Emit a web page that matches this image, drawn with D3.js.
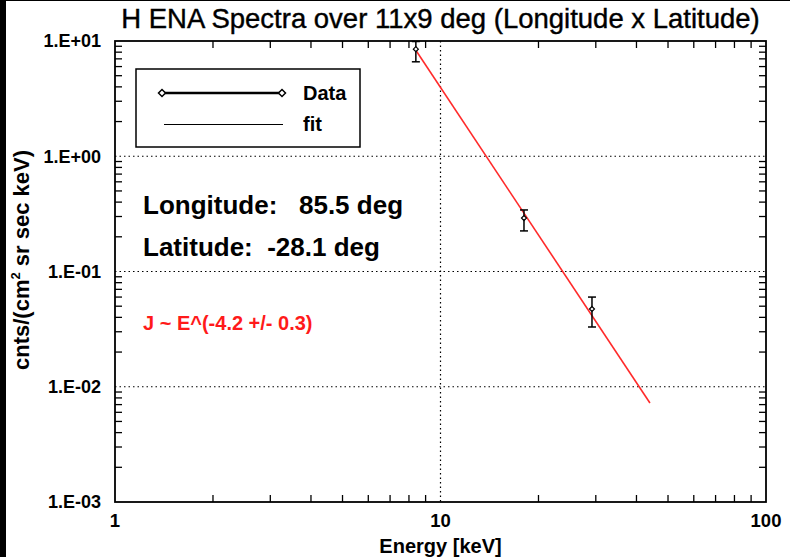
<!DOCTYPE html>
<html>
<head>
<meta charset="utf-8">
<script src="https://cdn.jsdelivr.net/npm/d3@7"></script>
<style>
  body { margin: 0; background: #fff; }
  svg { display: block; font-family: "Liberation Sans", Arial, Helvetica, sans-serif; }
</style>
</head>
<body>
<div id="container"></div>
<script>
// measured points (energy in keV, flux, error bar low/high)
const energy = [8.4, 18.05, 29.2];
const flux = [8.5, 0.291, 0.0473];
const fluxLow = [6.6, 0.225, 0.033];
const fluxHigh = [9.9, 0.342, 0.060];

// power-law fit line end points
const fitEnergy = [8.35, 44.0];
const fitFlux = [8.52, 0.00723];

const yTickValues = [10, 1, 0.1, 0.01, 0.001];
const yTickLabels = ["1.E+01", "1.E+00", "1.E-01", "1.E-02", "1.E-03"];
const xTickValues = [1, 10, 100];
const xTickLabels = ["1", "10", "100"];

const width = 790, height = 557;
const margin = { top: 41, right: 24, bottom: 55, left: 115 };

const svg = d3.select("#container").append("svg")
  .attr("width", width).attr("height", height);

svg.append("rect").attr("width", width).attr("height", height).attr("fill", "#fff");
// black strips left from the original screen grab
svg.append("rect").attr("x", 0).attr("y", 0).attr("width", 6).attr("height", height).attr("fill", "#000");
svg.append("rect").attr("x", 0).attr("y", 0).attr("width", width).attr("height", 1).attr("fill", "#000");

const x = d3.scaleLog().domain([1, 100]).range([margin.left, width - margin.right]);
const y = d3.scaleLog().domain([0.001, 10]).range([height - margin.bottom, margin.top]);

const [x0, x1] = x.range();
const [y0, y1] = [y(0.001), y(10)];

// dotted grid at decades
const grid = svg.append("g").attr("stroke", "#000").attr("stroke-width", 1.2)
  .attr("stroke-dasharray", "1.5,3");
grid.selectAll(".gx").data([10]).enter().append("line")
  .attr("x1", (d) => x(d)).attr("x2", (d) => x(d)).attr("y1", y1).attr("y2", y0);
grid.selectAll(".gy").data([1, 0.1, 0.01]).enter().append("line")
  .attr("y1", (d) => y(d)).attr("y2", (d) => y(d)).attr("x1", x0).attr("x2", x1);

// minor ticks on all four sides, pointing inward
const xMinor = x.ticks().filter((d) => !xTickValues.includes(d));
const yMinor = y.ticks().filter((d) => !yTickValues.some((v) => Math.abs(v - d) < d * 1e-6));
const tickLen = 7;
const ticks = svg.append("g").attr("stroke", "#000").attr("stroke-width", 1.3);
ticks.selectAll(".tb").data(xMinor).enter().append("line")
  .attr("x1", (d) => x(d)).attr("x2", (d) => x(d)).attr("y1", y0).attr("y2", y0 - tickLen);
ticks.selectAll(".tt").data(xMinor).enter().append("line")
  .attr("x1", (d) => x(d)).attr("x2", (d) => x(d)).attr("y1", y1).attr("y2", y1 + tickLen);
ticks.selectAll(".tl").data(yMinor).enter().append("line")
  .attr("y1", (d) => y(d)).attr("y2", (d) => y(d)).attr("x1", x0).attr("x2", x0 + tickLen);
ticks.selectAll(".tr").data(yMinor).enter().append("line")
  .attr("y1", (d) => y(d)).attr("y2", (d) => y(d)).attr("x1", x1).attr("x2", x1 - tickLen);

// frame
svg.append("rect").attr("x", x0).attr("y", y1).attr("width", x1 - x0).attr("height", y0 - y1)
  .attr("fill", "none").attr("stroke", "#000").attr("stroke-width", 1.8);

// tick labels
svg.append("g").selectAll("text").data(yTickValues).enter().append("text")
  .attr("x", x0 - 14).attr("y", (d) => y(d)).attr("dy", "0.36em")
  .attr("text-anchor", "end").attr("font-size", 18).attr("font-weight", "bold")
  .text((d, i) => yTickLabels[i]);
svg.append("g").selectAll("text").data(xTickValues).enter().append("text")
  .attr("x", (d) => x(d)).attr("y", y0 + 25)
  .attr("text-anchor", "middle").attr("font-size", 18.5).attr("font-weight", "bold")
  .text((d, i) => xTickLabels[i]);

// titles
svg.append("text").attr("x", (x0 + x1) / 2).attr("y", 28).attr("text-anchor", "middle")
  .attr("font-size", 27.5).attr("stroke", "#000").attr("stroke-width", 0.4)
  .text("H ENA Spectra over 11x9 deg (Longitude x Latitude)");
svg.append("text").attr("x", (x0 + x1) / 2).attr("y", 553).attr("text-anchor", "middle")
  .attr("font-size", 20).attr("font-weight", "bold").text("Energy [keV]");
const ylab = svg.append("text")
  .attr("transform", `translate(29,260) rotate(-90)`)
  .attr("text-anchor", "middle").attr("font-size", 22).attr("font-weight", "bold");
ylab.append("tspan").text("cnts/(cm");
ylab.append("tspan").attr("font-size", 13).attr("dy", -9).text("2");
ylab.append("tspan").attr("dy", 9).text(" sr sec keV)");

// fit line
const line = d3.line().x((d) => x(d[0])).y((d) => y(d[1]));
svg.append("path").datum(d3.zip(fitEnergy, fitFlux)).attr("d", line)
  .attr("fill", "none").attr("stroke", "#ff2a2a").attr("stroke-width", 1.6);

// error bars and diamonds
const diamond = (cx, cy, r) => `M${cx},${cy - r}L${cx + r},${cy}L${cx},${cy + r}L${cx - r},${cy}Z`;
const pts = svg.append("g").selectAll("g").data(energy).enter().append("g");
pts.append("line").attr("x1", (d) => x(d)).attr("x2", (d) => x(d))
  .attr("y1", (d, i) => y(fluxLow[i])).attr("y2", (d, i) => y(fluxHigh[i]))
  .attr("stroke", "#000").attr("stroke-width", 1.5);
pts.append("line").attr("x1", (d) => x(d) - 4).attr("x2", (d) => x(d) + 4)
  .attr("y1", (d, i) => y(fluxLow[i])).attr("y2", (d, i) => y(fluxLow[i]))
  .attr("stroke", "#000").attr("stroke-width", 1.5);
pts.append("line").attr("x1", (d) => x(d) - 4).attr("x2", (d) => x(d) + 4)
  .attr("y1", (d, i) => y(fluxHigh[i])).attr("y2", (d, i) => y(fluxHigh[i]))
  .attr("stroke", "#000").attr("stroke-width", 1.5);
pts.append("path").attr("d", (d, i) => diamond(x(d), y(flux[i]), 2.5))
  .attr("fill", "#fff").attr("stroke", "#000").attr("stroke-width", 1.2);

// legend
const lg = svg.append("g");
lg.append("rect").attr("x", 136).attr("y", 69).attr("width", 224).attr("height", 78)
  .attr("fill", "#fff").attr("stroke", "#000").attr("stroke-width", 1.5);
lg.append("line").attr("x1", 162).attr("x2", 282).attr("y1", 93).attr("y2", 93)
  .attr("stroke", "#000").attr("stroke-width", 2.5);
lg.selectAll(".ld").data([162, 282]).enter().append("path")
  .attr("d", (d) => diamond(d, 93, 3.5)).attr("fill", "#fff").attr("stroke", "#000").attr("stroke-width", 1.5);
lg.append("line").attr("x1", 164).attr("x2", 283).attr("y1", 124.5).attr("y2", 124.5)
  .attr("stroke", "#000").attr("stroke-width", 1);
lg.append("text").attr("x", 303).attr("y", 100).attr("font-size", 20).attr("font-weight", "bold").text("Data");
lg.append("text").attr("x", 303).attr("y", 131).attr("font-size", 20).attr("font-weight", "bold").text("fit");

// annotations
svg.append("text").attr("x", 143).attr("y", 214).attr("font-size", 26).attr("font-weight", "bold")
  .style("white-space", "pre").text("Longitude:   85.5 deg");
svg.append("text").attr("x", 143).attr("y", 256).attr("font-size", 26).attr("font-weight", "bold")
  .style("white-space", "pre").text("Latitude:  -28.1 deg");
svg.append("text").attr("x", 143).attr("y", 330).attr("font-size", 20).attr("font-weight", "bold")
  .attr("fill", "#ff1a1a").text("J ~ E^(-4.2 +/- 0.3)");
</script>
</body>
</html>
